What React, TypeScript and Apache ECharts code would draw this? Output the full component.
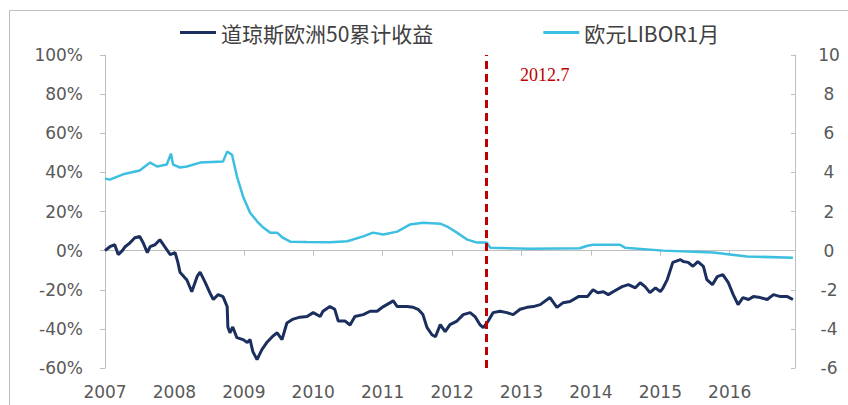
import { useEffect, useRef } from 'react';
import * as echarts from 'echarts';

const yearLabels = [2007, 2008, 2009, 2010, 2011, 2012, 2013, 2014, 2015, 2016];
const xMin = 2007;
const xMax = 2016.94;

const stoxxName = '道琼斯欧洲50累计收益';
const liborName = '欧元LIBOR1月';

const stoxxDates = [
  2007.00, 2007.07, 2007.14, 2007.19, 2007.25, 2007.29, 2007.36, 2007.43, 2007.50, 2007.55,
  2007.61, 2007.65, 2007.72, 2007.79, 2007.86, 2007.94, 2008.01, 2008.05, 2008.08, 2008.18,
  2008.25, 2008.33, 2008.37, 2008.44, 2008.51, 2008.56, 2008.63, 2008.70, 2008.76, 2008.77,
  2008.80, 2008.84, 2008.90, 2008.99, 2009.05, 2009.09, 2009.13, 2009.19, 2009.26, 2009.33,
  2009.41, 2009.48, 2009.55, 2009.62, 2009.71, 2009.81, 2009.91, 2010.00, 2010.10, 2010.14,
  2010.24, 2010.31, 2010.36, 2010.46, 2010.53, 2010.60, 2010.72, 2010.82, 2010.92, 2011.01,
  2011.11, 2011.15, 2011.21, 2011.35, 2011.44, 2011.51, 2011.58, 2011.64, 2011.71, 2011.76,
  2011.83, 2011.90, 2011.97, 2012.07, 2012.16, 2012.26, 2012.33, 2012.40, 2012.45, 2012.52,
  2012.59, 2012.69, 2012.79, 2012.88, 2012.98, 2013.08, 2013.17, 2013.27, 2013.41, 2013.51,
  2013.60, 2013.70, 2013.82, 2013.95, 2014.03, 2014.10, 2014.18, 2014.25, 2014.32, 2014.45,
  2014.54, 2014.64, 2014.71, 2014.78, 2014.85, 2014.93, 2015.00, 2015.04, 2015.10, 2015.18,
  2015.29, 2015.33, 2015.40, 2015.47, 2015.54, 2015.62, 2015.67, 2015.75, 2015.82, 2015.90,
  2015.98, 2016.05, 2016.12, 2016.19, 2016.27, 2016.34, 2016.44, 2016.54, 2016.63, 2016.73,
  2016.83, 2016.91,
];
const stoxxValues = [
  0, 2, 3, -2, 0, 2, 4, 6.6, 7.2, 4,
  -1, 2, 3, 5.6, 2, -2, -1, -6, -11, -15,
  -21, -13, -11, -16, -21.5, -25, -22.5, -23.5, -28.6, -39,
  -42, -39, -44.5, -45.5, -47, -45.5, -51.6, -55.7, -50.6, -47,
  -44, -42, -45.5, -37, -35, -34, -33.7, -31.7, -33.7, -31,
  -28.6, -30, -36, -36, -38, -33.7, -32.7, -31, -31, -28.6,
  -26.6, -25.6, -28.6, -28.6, -29, -30, -32.7, -39.4, -43, -44,
  -37.8, -41.4, -37.8, -36, -32.7, -31.7, -33.7, -37.8, -39.4, -36,
  -31.7, -31, -31.7, -32.7, -30, -29, -28.6, -27.6, -24, -29,
  -26.6, -26, -23.5, -23.5, -20, -21.5, -21, -22.5, -21, -18.4,
  -17.4, -19, -16.4, -18.4, -21.5, -19, -21, -19, -14.8, -6,
  -4.6, -5.6, -6, -8, -5.6, -8, -14.8, -17.4, -13.3, -12.3,
  -16.4, -22.5, -27.6, -24, -25, -23.5, -24, -25, -22.5, -23.5,
  -23.5, -25,
];

const liborDates = [
  2007.00, 2007.07, 2007.26, 2007.50, 2007.65, 2007.75, 2007.89, 2007.95, 2007.98, 2008.08,
  2008.18, 2008.37, 2008.70, 2008.76, 2008.83, 2008.90, 2008.99, 2009.09, 2009.19, 2009.28,
  2009.38, 2009.48, 2009.56, 2009.67, 2009.91, 2010.24, 2010.49, 2010.72, 2010.86, 2011.01,
  2011.21, 2011.39, 2011.58, 2011.83, 2011.93, 2012.07, 2012.22, 2012.36, 2012.50, 2012.55,
  2013.12, 2013.84, 2013.95, 2014.03, 2014.42, 2014.49, 2015.04, 2015.76, 2016.25, 2016.91,
];
const liborValues = [
  3.68, 3.63, 3.9, 4.1, 4.5, 4.3, 4.4, 4.96, 4.4, 4.25,
  4.3, 4.5, 4.55, 5.06, 4.9, 3.8, 2.76, 1.94, 1.5, 1.18,
  0.92, 0.92, 0.66, 0.46, 0.44, 0.43, 0.48, 0.73, 0.92, 0.82,
  0.97, 1.33, 1.42, 1.38, 1.23, 0.92, 0.56, 0.41, 0.41, 0.15,
  0.1, 0.12, 0.25, 0.3, 0.3, 0.15, 0, -0.1, -0.3, -0.36,
];

const markDate = 2012.49;
const markText = '2012.7';

const axisGray = '#BFBFBF';
const labelGray = '#595959';

export default function App() {
  const ref = useRef<HTMLDivElement>(null);

  useEffect(() => {
    if (!ref.current) return;
    const chart = echarts.init(ref.current, undefined, { renderer: 'svg' });
    const axisFont = { fontFamily: 'DejaVu Sans', fontSize: 17, color: labelGray };
    chart.setOption({
      animation: false,
      backgroundColor: '#ffffff',
      grid: { left: 105, right: 53, top: 55, bottom: 37, containLabel: false },
      legend: {
        data: [stoxxName, liborName],
        left: 175,
        top: 17,
        icon: 'rect',
        itemWidth: 36,
        itemHeight: 3,
        itemGap: 110,
        textStyle: { fontFamily: 'Noto Sans CJK SC', fontSize: 21, color: '#404040' },
      },
      xAxis: [
        {
          type: 'value',
          min: xMin,
          max: xMax,
          interval: 1,
          position: 'bottom',
          axisLine: { show: false },
          axisTick: { show: false },
          splitLine: { show: false },
          axisLabel: {
            ...axisFont,
            margin: 15,
            customValues: yearLabels,
            formatter: (v: number) => (Number.isInteger(v) ? String(v) : ''),
          },
        },
        {
          type: 'value',
          min: xMin,
          max: xMax,
          interval: 1,
          position: 'bottom',
          axisLine: { show: true, onZero: true, onZeroAxisIndex: 0, lineStyle: { color: axisGray, width: 1 } },
          axisTick: { show: true, length: 5, customValues: yearLabels, lineStyle: { color: axisGray } },
          axisLabel: { show: false },
          splitLine: { show: false },
        },
      ],
      yAxis: [
        {
          type: 'value',
          min: -60,
          max: 100,
          interval: 20,
          position: 'left',
          axisLine: { show: true, onZero: false, lineStyle: { color: axisGray, width: 1 } },
          axisTick: { show: true, length: 5, lineStyle: { color: axisGray } },
          splitLine: { show: false },
          axisLabel: { ...axisFont, margin: 22, formatter: '{value}%' },
        },
        {
          type: 'value',
          min: -6,
          max: 10,
          interval: 2,
          position: 'right',
          axisLine: { show: true, onZero: false, lineStyle: { color: axisGray, width: 1 } },
          axisTick: { show: true, inside: true, length: 4, lineStyle: { color: axisGray } },
          splitLine: { show: false },
          axisLabel: { ...axisFont, margin: 34, align: 'center' },
        },
      ],
      series: [
        {
          name: stoxxName,
          type: 'line',
          xAxisIndex: 0,
          yAxisIndex: 0,
          symbol: 'none',
          data: stoxxDates.map((d, i) => [d, stoxxValues[i]]),
          lineStyle: { color: '#1B2F5E', width: 3 },
          itemStyle: { color: '#1B2F5E' },
          z: 3,
        },
        {
          name: liborName,
          type: 'line',
          xAxisIndex: 0,
          yAxisIndex: 1,
          symbol: 'none',
          data: liborDates.map((d, i) => [d, liborValues[i]]),
          lineStyle: { color: '#3CBFE0', width: 2.5 },
          itemStyle: { color: '#3CBFE0' },
          z: 2,
        },
        {
          name: 'mark',
          type: 'line',
          xAxisIndex: 0,
          yAxisIndex: 0,
          data: [],
          z: 10,
          markLine: {
            silent: true,
            symbol: 'none',
            label: { show: false },
            lineStyle: { color: '#C00000', width: 3, type: [8, 5] },
            data: [{ xAxis: markDate }],
          },
        },
      ],
      graphic: [
        {
          type: 'polyline',
          shape: { points: [[9.5, 405], [9.5, 10.5], [848, 10.5]] },
          style: { stroke: '#BDBDBD', fill: 'none', lineWidth: 1 },
          silent: true,
        },
        {
          type: 'text',
          left: 520,
          top: 66,
          style: {
            text: markText,
            fill: '#C00000',
            font: '18px "Liberation Serif"',
          },
        },
      ],
    });
    return () => chart.dispose();
  }, []);

  return (
    <div
      ref={ref}
      style={{ position: 'fixed', left: 0, top: 0, width: 848, height: 405, background: '#fff' }}
    />
  );
}
